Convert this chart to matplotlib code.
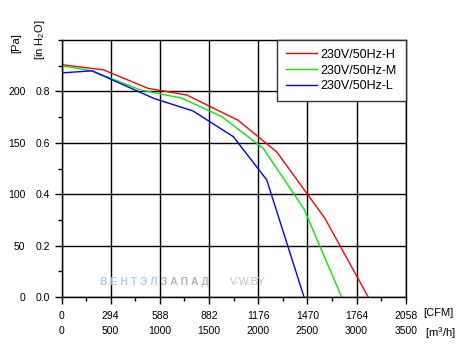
import matplotlib.pyplot as plt
from matplotlib.ticker import MultipleLocator

plt.rcParams['font.family'] = ['Liberation Sans', 'DejaVu Sans']
plt.rcParams['mathtext.fontset'] = 'custom'
plt.rcParams['mathtext.rm'] = 'Liberation Sans'
plt.rcParams['mathtext.it'] = 'Liberation Sans'

# airflow in CFM, pressure in Pa
h_cfm = [0, 250, 517, 749, 1055, 1288, 1575, 1834]
h_pa = [226, 221, 203, 196.5, 172, 141, 76.5, 0]
m_cfm = [0, 182, 469, 719, 958, 1207, 1450, 1675]
m_pa = [225, 220, 201.5, 193.5, 175.5, 144.5, 85.5, 0]
l_cfm = [0, 182, 555, 786, 1027, 1227, 1450]
l_pa = [218, 220, 193, 181, 156, 114, 0]
labels = ['230V/50Hz-H', '230V/50Hz-M', '230V/50Hz-L']
colors = ['#ff0000', '#00ee00', '#0000ff']

cfm_ticks = [0, 294, 588, 882, 1176, 1470, 1764, 2058]
m3h_labels = ['0', '500', '1000', '1500', '2000', '2500', '3000', '3500']
pa_ticks = [0, 50, 100, 150, 200]
inh2o_labels = ['0.0', '0.2', '0.4', '0.6', '0.8']

fig = plt.figure(figsize=(4.71, 3.46), dpi=100)
ax = fig.add_axes([61.5 / 471, 1 - 297 / 346, 344.2 / 471, 257 / 346])

for x, y, lab, c in zip([h_cfm, m_cfm, l_cfm], [h_pa, m_pa, l_pa], labels, colors):
    ax.plot(x, y, color=c, lw=1.0, label=lab)

ax.set_xlim(0, 2058)
ax.set_ylim(0, 250)
ax.set_xticks(cfm_ticks)
ax.set_yticks(pa_ticks, labels=inh2o_labels)
ax.xaxis.set_minor_locator(MultipleLocator(147))
ax.yaxis.set_minor_locator(MultipleLocator(25))
ax.tick_params(which='major', length=5, width=1, labelsize=7.5, pad=5)
ax.tick_params(which='minor', length=3, width=1)
ax.tick_params(axis='y', pad=3)
ax.grid(True, which='major', color='black', lw=1.0)
for s in ax.spines.values():
    s.set_linewidth(1.0)

# second rows of labels: m3/h and Pa
secx = ax.secondary_xaxis('bottom')
secx.set_xticks(cfm_ticks, labels=m3h_labels)
secx.tick_params(length=0, labelsize=7.5, pad=21)
secx.spines['bottom'].set_visible(False)

secy = ax.secondary_yaxis('left')
secy.set_yticks(pa_ticks, labels=[str(v) for v in pa_ticks])
secy.tick_params(length=0, labelsize=7.5, pad=26)
secy.spines['left'].set_visible(False)

ax.text(1.05, -0.062, '[CFM]', transform=ax.transAxes, fontsize=8, va='center', ha='left')
ax.text(1.056, -0.14, '[m$^3$/h]', transform=ax.transAxes, fontsize=8, va='center', ha='left')
ax.text(-0.132, 0.988, '[Pa]', transform=ax.transAxes, fontsize=8, va='center', ha='center', rotation=90)
ax.text(-0.0625, 1.0, '[in H$_2$O]', transform=ax.transAxes, fontsize=8, va='center', ha='center', rotation=90)

# watermark
t1 = ax.text(0.112, 0.058, 'В Е Н Т Э Л', transform=ax.transAxes, fontsize=7.5, fontweight='bold',
             color='#a9d1f2', va='center', ha='left')
ax.annotate(' З А П А Д', xy=(1, 0.5), xycoords=t1, fontsize=7.5, fontweight='bold',
            color='#b5b5b5', va='center', ha='left')
ax.text(0.49, 0.058, 'V-W.BY', transform=ax.transAxes, fontsize=7.5,
        color='#b8c4d0', va='center', ha='left')

leg = ax.legend(loc='upper right', borderaxespad=0, fancybox=False, framealpha=1,
                edgecolor='#333333', fontsize=9, handlelength=2.5, handletextpad=0.3,
                labelspacing=0.3, borderpad=0.7)
leg.get_frame().set_linewidth(1.0)

fig.savefig('out.png', dpi=100)
